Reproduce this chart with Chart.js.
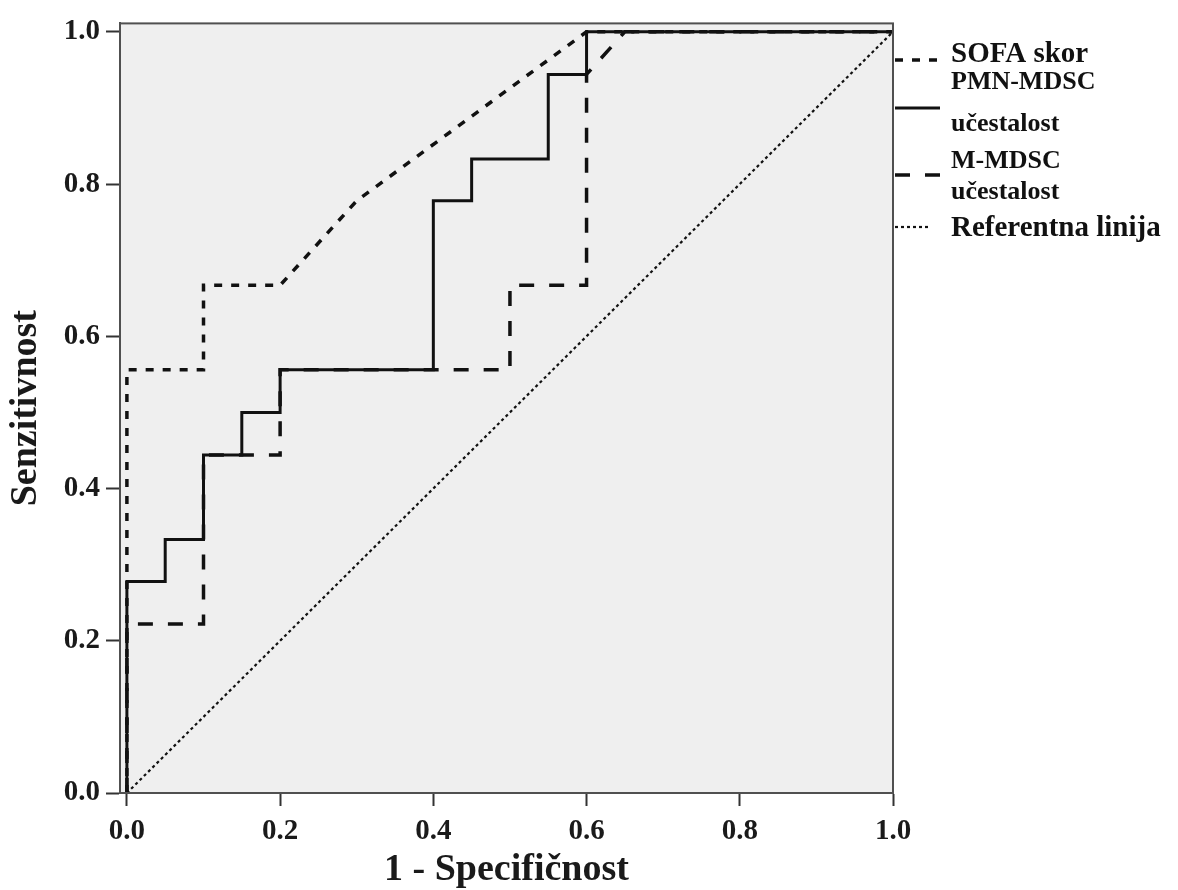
<!DOCTYPE html>
<html>
<head>
<meta charset="utf-8">
<script src="https://cdn.jsdelivr.net/npm/chart.js@4.4.1/dist/chart.umd.min.js"></script>
<style>
  html, body { margin: 0; padding: 0; background: #ffffff; }
  #wrap { width: 1178px; height: 890px; }
</style>
</head>
<body>
<div id="wrap"><canvas id="c" width="1178" height="890"></canvas></div>
<script>
// ---- Data ----
const tickValues = [0.0, 0.2, 0.4, 0.6, 0.8, 1.0];

const sofaX = [0, 0, 0.1, 0.1, 0.2, 0.3, 0.6, 1.0];
const sofaY = [0, 0.556, 0.556, 0.667, 0.667, 0.778, 1.0, 1.0];

const pmnX = [0, 0, 0.05, 0.05, 0.1, 0.1, 0.15, 0.15, 0.2, 0.2, 0.4, 0.4, 0.45, 0.45, 0.55, 0.55, 0.6, 0.6, 1.0];
const pmnY = [0, 0.278, 0.278, 0.333, 0.333, 0.444, 0.444, 0.5, 0.5, 0.556, 0.556, 0.778, 0.778, 0.833, 0.833, 0.944, 0.944, 1.0, 1.0];

const mX = [0, 0, 0.1, 0.1, 0.2, 0.2, 0.5, 0.5, 0.6, 0.6, 0.65, 1.0];
const mY = [0, 0.222, 0.222, 0.444, 0.444, 0.556, 0.556, 0.667, 0.667, 0.944, 1.0, 1.0];

const refX = [0, 1];
const refY = [0, 1];

const seriesLabels = [["SOFA skor"], ["PMN-MDSC", "učestalost"], ["M-MDSC", "učestalost"], ["Referentna linija"]];
const xTitle = "1 - Specifičnost";
const yTitle = "Senzitivnost";

// ---- Helpers ----
const pts = (xs, ys) => xs.map((x, i) => ({ x: x, y: ys[i] }));
const SERIF = "'Liberation Serif', 'Times New Roman', serif";
const INK = '#111111';
const FRAME = '#505050';

const styles = [
  { dash: [8, 9], width: 3.5 },
  { dash: [], width: 3 },
  { dash: [15, 15], width: 3.5 },
  { dash: [3, 3], width: 2.2 }
];

const bgPlugin = {
  id: 'bg',
  beforeDraw(chart) {
    const { ctx, chartArea: a } = chart;
    ctx.save();
    ctx.fillStyle = '#efefef';
    ctx.fillRect(a.left, a.top, a.right - a.left, a.bottom - a.top);
    ctx.restore();
  },
  afterDraw(chart) {
    const { ctx, chartArea: a } = chart;
    ctx.save();
    ctx.strokeStyle = FRAME;
    ctx.lineWidth = 2;
    ctx.strokeRect(a.left, a.top, a.right - a.left, a.bottom - a.top);

    // custom legend on the right
    const x0 = a.right + 2, x1 = a.right + 47, tx = a.right + 58;
    const entries = [
      { lineY: 60, lines: [{ t: seriesLabels[0][0], y: 62, size: 29 }] },
      { lineY: 108, lines: [{ t: seriesLabels[1][0], y: 89, size: 26 }, { t: seriesLabels[1][1], y: 131, size: 26 }] },
      { lineY: 175, lines: [{ t: seriesLabels[2][0], y: 168, size: 26 }, { t: seriesLabels[2][1], y: 199, size: 26 }] },
      { lineY: 227, lines: [{ t: seriesLabels[3][0], y: 236, size: 29 }] }
    ];
    entries.forEach((e, i) => {
      const st = styles[i];
      ctx.beginPath();
      ctx.setLineDash(st.dash);
      ctx.lineWidth = st.width;
      ctx.strokeStyle = INK;
      ctx.moveTo(x0, e.lineY);
      ctx.lineTo(i === 3 ? a.right + 38 : x1, e.lineY);
      ctx.stroke();
      ctx.setLineDash([]);
      ctx.fillStyle = INK;
      ctx.textBaseline = 'alphabetic';
      ctx.textAlign = 'left';
      e.lines.forEach(l => {
        ctx.font = 'bold ' + l.size + 'px ' + SERIF;
        ctx.fillText(l.t, tx, l.y);
      });
    });
    ctx.restore();
  }
};

const datasets = [
  { label: seriesLabels[0].join(' '), data: pts(sofaX, sofaY) },
  { label: seriesLabels[1].join(' '), data: pts(pmnX, pmnY) },
  { label: seriesLabels[2].join(' '), data: pts(mX, mY) },
  { label: seriesLabels[3].join(' '), data: pts(refX, refY) }
].map((d, i) => Object.assign(d, {
  showLine: true,
  borderColor: INK,
  backgroundColor: INK,
  borderWidth: styles[i].width,
  borderDash: styles[i].dash,
  pointRadius: 0,
  pointHoverRadius: 0,
  tension: 0,
  fill: false,
  clip: 6
}));

const setTicks = scale => { scale.ticks = tickValues.map(v => ({ value: v })); };

new Chart(document.getElementById('c'), {
  type: 'scatter',
  data: { datasets: datasets },
  plugins: [bgPlugin],
  options: {
    responsive: false,
    animation: false,
    layout: { padding: { left: 0, right: 285, top: 19, bottom: 0 } },
    plugins: { legend: { display: false }, tooltip: { enabled: false } },
    scales: {
      x: {
        type: 'linear',
        min: -0.009,
        max: 1.0,
        afterBuildTicks: setTicks,
        afterFit: s => { s.height = 97; },
        grid: { drawOnChartArea: false, drawTicks: true, tickLength: 13, tickWidth: 2, tickColor: '#333' },
        border: { display: true, color: FRAME, width: 2 },
        ticks: {
          padding: 8,
          color: '#1a1a1a',
          font: { family: SERIF, size: 29, weight: 'bold' },
          callback: v => Number(v).toFixed(1),
          maxRotation: 0
        },
        title: {
          display: true,
          text: xTitle,
          color: '#1a1a1a',
          font: { family: SERIF, size: 38, weight: 'bold' },
          padding: { top: 0, bottom: -3 }
        }
      },
      y: {
        type: 'linear',
        min: 0,
        max: 1.011,
        afterBuildTicks: setTicks,
        afterFit: s => { s.width = 120; },
        grid: { drawOnChartArea: false, drawTicks: true, tickLength: 14, tickWidth: 2, tickColor: '#333' },
        border: { display: true, color: FRAME, width: 2 },
        ticks: {
          padding: 6,
          color: '#1a1a1a',
          font: { family: SERIF, size: 29, weight: 'bold' },
          callback: v => Number(v).toFixed(1)
        },
        title: {
          display: true,
          text: yTitle,
          color: '#1a1a1a',
          font: { family: SERIF, size: 38, weight: 'bold' },
          padding: { top: 3, bottom: 0 }
        }
      }
    }
  }
});
</script>
</body>
</html>
